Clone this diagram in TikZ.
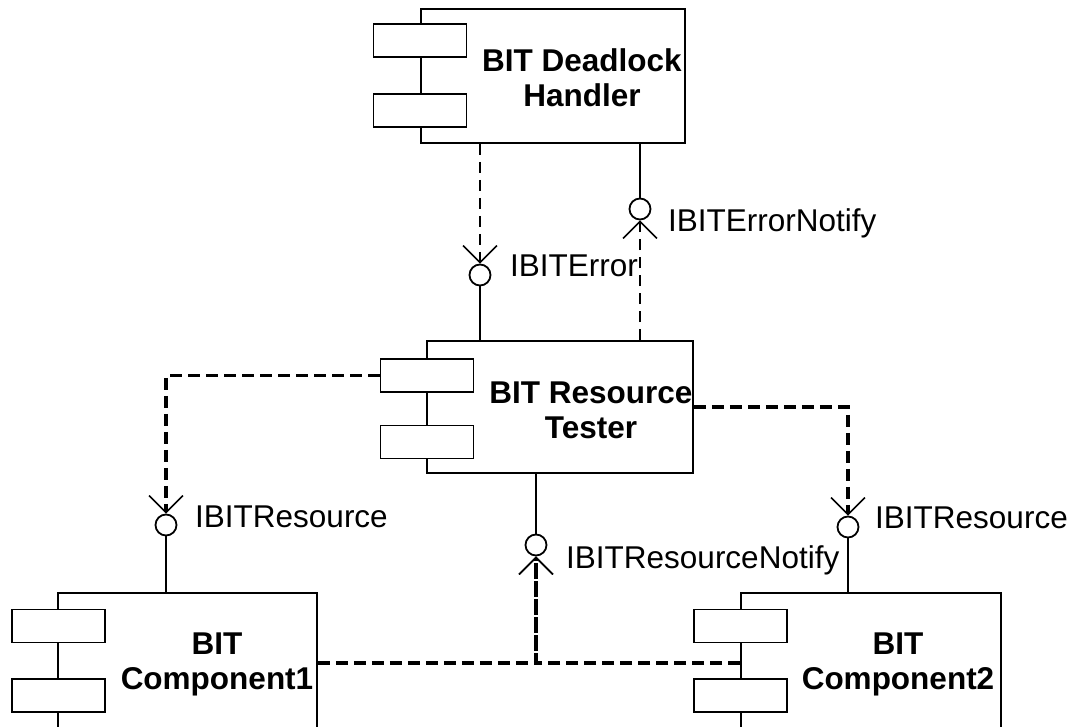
\documentclass[tikz,border=0pt]{standalone}
\usepackage{fontspec}
\setmainfont{Liberation Sans}
\usetikzlibrary{arrows.meta}

\begin{document}
\begin{tikzpicture}[x=1pt,y=-1pt,
   every node/.style={inner sep=0pt},
   body/.style={draw,line width=1.8pt,fill=white,minimum height=#1},
   port/.style={draw,line width=1.8pt,fill=white,minimum width=93pt,minimum height=33pt},
   iface/.style={draw,circle,line width=1.8pt,fill=white,minimum size=21pt},
   comptext/.style={font=\bfseries\fontsize{31.5}{35}\selectfont,align=center},
   ilabel/.style={font=\fontsize{31.5}{34}\selectfont,anchor=base west},
   link/.style={line width=1.8pt},
   depend/.style={line width=1.8pt,dash pattern=on 11pt off 7pt,
      -{Straight Barb[length=17pt,width=34pt,line width=1.5pt]}},
   depthick/.style={depend,line width=3.6pt,dash pattern=on 12pt off 6pt}]

\clip (0,0) rectangle (1072,727);

% components
\node[body=134pt,minimum width=264pt] (deadlock) at (553,76) {};
\node[port] (deadlock-a) at (420,40.5) {};
\node[port] (deadlock-b) at (420,110.5) {};
\node[comptext] at (582,78) {BIT Deadlock\\Handler};

\node[body=132pt,minimum width=266pt] (tester) at (560,407) {};
\node[port] (tester-a) at (427,375.5) {};
\node[port] (tester-b) at (427,442) {};
\node[comptext] at (591,410) {BIT Resource\\Tester};

\node[body=140pt,minimum width=259pt] (comp1) at (187.5,663) {};
\node[port] (comp1-a) at (58.5,626) {};
\node[port] (comp1-b) at (58.5,695.5) {};
\node[comptext] at (217,664) {BIT\\Component1};

\node[body=140pt,minimum width=260pt] (comp2) at (871,663) {};
\node[port] (comp2-a) at (740.5,626) {};
\node[port] (comp2-b) at (740.5,695.5) {};
\node[comptext] at (898,664) {BIT\\Component2};

% interfaces
\node[iface] (ierror) at (480,275) {};
\node[iface] (ierrnotify) at (640,209) {};
\node[iface] (ires1) at (166,525) {};
\node[iface] (ires2) at (848,527) {};
\node[iface] (iresnotify) at (536,545) {};

\node[ilabel] at (510,277) {IBITError};
\node[ilabel] at (668,232) {IBITErrorNotify};
\node[ilabel] at (195,527) {IBITResource};
\node[ilabel] at (875,528) {IBITResource};
\node[ilabel] at (566,568) {IBITResourceNotify};

% realizations
\draw[link] (ierror) -- (ierror |- tester.north);
\draw[link] (ierrnotify) -- (ierrnotify |- deadlock.south);
\draw[link] (ires1) -- (ires1 |- comp1.north);
\draw[link] (ires2) -- (ires2 |- comp2.north);
\draw[link] (iresnotify) -- (iresnotify |- tester.south);

% dependencies
\draw[depend] (ierror |- deadlock.south) -- (ierror);
\draw[depend] (ierrnotify |- tester.north) -- (ierrnotify);
\draw[depthick] (tester-a.west) -| (ires1);
\draw[depthick] (tester.east) -| (ires2);
\draw[depthick] (comp1.east) -| (iresnotify);
\draw[depthick] (comp2.west) -| (iresnotify);

\end{tikzpicture}
\end{document}
